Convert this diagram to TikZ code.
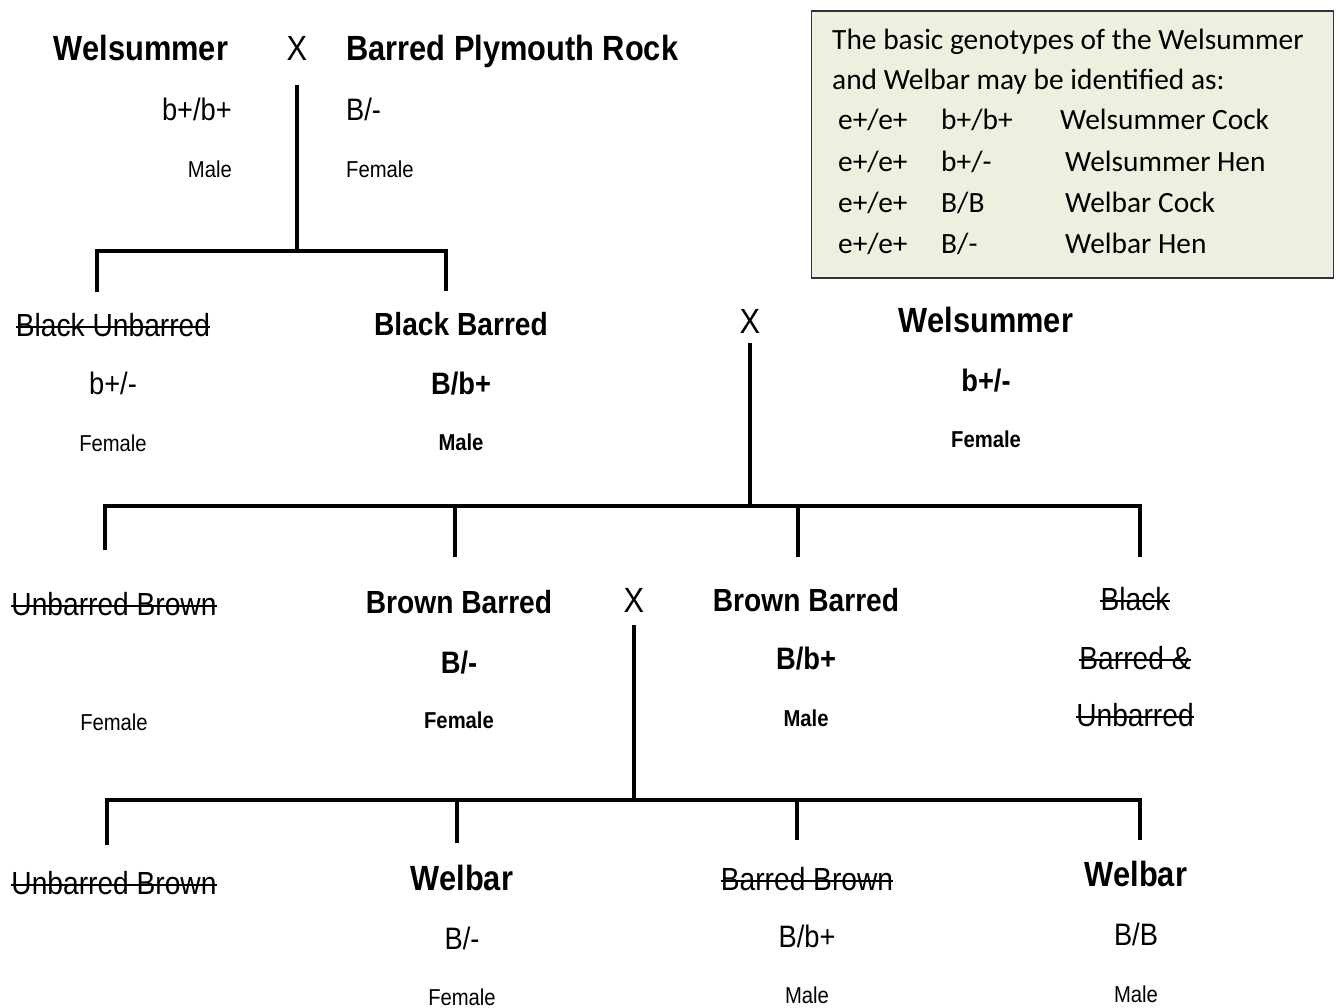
\documentclass[tikz,border=0pt]{standalone}
\usepackage{fontspec}
\setmainfont{Liberation Sans}[FakeStretch=0.88]
\newfontfamily\keyfont{Carlito}
\usetikzlibrary{positioning}
\definecolor{keygreen}{RGB}{235,241,222}

\begin{document}
\begin{tikzpicture}[
    x=1pt, y=-1pt,
    every node/.style={inner sep=0pt},
    tree/.style={draw, line width=3.6pt},
    big/.style={font=\bfseries\fontsize{35}{40}\selectfont, anchor=base},
    mid/.style={font=\bfseries\fontsize{32}{38}\selectfont, anchor=base},
    plain/.style={font=\fontsize{32}{38}\selectfont, anchor=base},
    gone/.style={plain, append after command={\pgfextra{\let\gonenode\tikzlastnode
        \draw[line width=1.6pt] ([yshift=9pt]\gonenode.base west) -- ([yshift=9pt]\gonenode.base east);}}},
    cross/.style={font=\fontsize{35}{40}\selectfont, anchor=base},
    geno/.style={font=\fontsize{31}{36}\selectfont, anchor=base},
    genob/.style={font=\bfseries\fontsize{31}{36}\selectfont, anchor=base},
    sex/.style={font=\fontsize{23}{28}\selectfont, anchor=base},
    sexb/.style={font=\bfseries\fontsize{23}{28}\selectfont, anchor=base},
    keybox/.style={draw=black!80, line width=1.8pt, fill=keygreen, anchor=north west},
    keytext/.style={font=\keyfont\fontsize{29.4}{40}\selectfont, anchor=base west}
]
\useasboundingbox (0,0) rectangle (1337,1008);

% key box
\node [keybox, minimum width=522pt, minimum height=267pt] (key) at (810.5,10) {};
\node [keytext] (k1) at (832,50) {The basic genotypes of the Welsummer};
\node [keytext] (k2) at (832,90) {and Welbar may be identified as:};
\node [keytext] (r1a) at (838,130) {e+/e+};
\node [keytext] (r1b) at (941,130) {b+/b+};
\node [keytext] (r1c) at (1060,130) {Welsummer Cock};
\node [keytext] (r2a) at (838,172) {e+/e+};
\node [keytext] (r2b) at (941,172) {b+/-};
\node [keytext] (r2c) at (1065,172) {Welsummer Hen};
\node [keytext] (r3a) at (838,213) {e+/e+};
\node [keytext] (r3b) at (941,213) {B/B};
\node [keytext] (r3c) at (1065,213) {Welbar Cock};
\node [keytext] (r4a) at (838,254) {e+/e+};
\node [keytext] (r4b) at (941,254) {B/-};
\node [keytext] (r4c) at (1065,254) {Welbar Hen};

% parents
\node [big] (wels) at (141,61) {Welsummer};
\node [cross] (x1) at (297,61) {X};
\node [big, anchor=base west] (bpr) at (346,61) {Barred Plymouth Rock};
\node [geno, anchor=base east] (welsg) at (232,121) {b+/b+};
\node [sex, below=57pt of welsg.base east, anchor=base east] (welss) {Male};
\node [geno, anchor=base west] (bprg) at (346,121) {B/-};
\node [sex, below=57pt of bprg.base west, anchor=base west] (bprs) {Female};

% first generation
\node [gone] (bu) at (113,336) {Black Unbarred};
\node [geno, below=58pt of bu.base, anchor=base] (bug) {b+/-};
\node [sex, below=57pt of bug.base, anchor=base] (bus) {Female};
\node [mid] (bb) at (461,335) {Black Barred};
\node [genob, below=59pt of bb.base, anchor=base] (bbg) {B/b+};
\node [sexb, below=56pt of bbg.base, anchor=base] (bbs) {Male};
\node [cross] (x2) at (750,333) {X};
\node [big] (wels2) at (986,332) {Welsummer};
\node [genob, below=59pt of wels2.base, anchor=base] (wels2g) {b+/-};
\node [sexb, below=56pt of wels2g.base, anchor=base] (wels2s) {Female};

% second generation
\node [gone] (ub1) at (114,615) {Unbarred Brown};
\node [sex, below=115pt of ub1.base, anchor=base] (ub1s) {Female};
\node [mid] (brb1) at (459,613) {Brown Barred};
\node [genob, below=60pt of brb1.base, anchor=base] (brb1g) {B/-};
\node [sexb, below=55pt of brb1g.base, anchor=base] (brb1s) {Female};
\node [cross] (x3) at (634,612) {X};
\node [mid] (brb2) at (806,611) {Brown Barred};
\node [genob, below=58pt of brb2.base, anchor=base] (brb2g) {B/b+};
\node [sexb, below=57pt of brb2g.base, anchor=base] (brb2s) {Male};
\node [gone] (bbu1) at (1135,610) {Black};
\node [gone, below=59pt of bbu1.base, anchor=base] (bbu2) {Barred \&};
\node [gone, below=57pt of bbu2.base, anchor=base] (bbu3) {Unbarred};

% third generation
\node [gone] (ub2) at (114,894) {Unbarred Brown};
\node [big] (wb1) at (462,890) {Welbar};
\node [geno, below=59pt of wb1.base, anchor=base] (wb1g) {B/-};
\node [sex, below=56pt of wb1g.base, anchor=base] (wb1s) {Female};
\node [gone] (bbr) at (807,890) {Barred Brown};
\node [geno, below=57pt of bbr.base, anchor=base] (bbrg) {B/b+};
\node [sex, below=56pt of bbrg.base, anchor=base] (bbrs) {Male};
\node [big] (wb2) at (1136,886) {Welbar};
\node [geno, below=59pt of wb2.base, anchor=base] (wb2g) {B/B};
\node [sex, below=57pt of wb2g.base, anchor=base] (wb2s) {Male};

% junctions and drops
\coordinate (j1) at (297,251);
\coordinate (d1a) at (97,292);
\coordinate (d1b) at (446,291);
\coordinate (j2) at (750,506);
\coordinate (d2a) at (105,550);
\coordinate (d2b) at (455,557);
\coordinate (d2c) at (798,557);
\coordinate (d2d) at (1140,557);
\coordinate (j3) at (634,800);
\coordinate (d3a) at (107,845);
\coordinate (d3b) at (457,843);
\coordinate (d3c) at (797,840);
\coordinate (d3d) at (1140,840);

\draw [tree] ([yshift=-24pt]x1.south) -- (j1);
\draw [tree] (d1a) |- (j1) -| (d1b);

\draw [tree] ([yshift=-10pt]x2.south) -- (j2);
\draw [tree] (d2a) |- (j2) -| (d2d);
\draw [tree] (d2b) -- (d2b |- j2);
\draw [tree] (d2c) -- (d2c |- j2);

\draw [tree] ([yshift=-13pt]x3.south) -- (j3);
\draw [tree] (d3a) |- (j3) -| (d3d);
\draw [tree] (d3b) -- (d3b |- j3);
\draw [tree] (d3c) -- (d3c |- j3);
\end{tikzpicture}
\end{document}
